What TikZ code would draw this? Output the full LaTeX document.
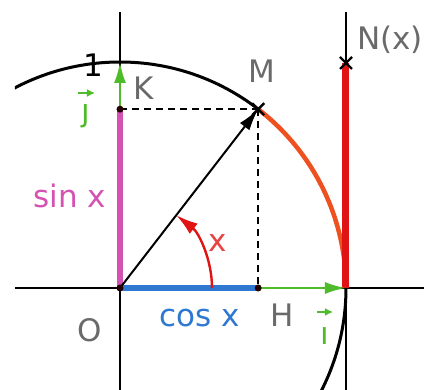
\documentclass[tikz,border=0pt]{standalone}
\usepackage{fontspec}
\setmainfont{DejaVu Sans}
\usetikzlibrary{arrows.meta}
\definecolor{txtgray}{HTML}{6A6A6A}
\definecolor{sinpink}{HTML}{D452B2}
\definecolor{cosblue}{HTML}{2F78D2}
\definecolor{vecgreen}{HTML}{4DBB2A}
\definecolor{tanred}{HTML}{E01414}
\definecolor{arcorange}{HTML}{EE5020}
\tikzset{
  lbl/.style={inner sep=0pt, anchor=base, font=\fontsize{31}{31}\selectfont, text=txtgray},
  axisline/.style={line width=2.4pt, black},
  dashline/.style={line width=2pt, dash pattern=on 7pt off 5pt},
  ptdot/.style={circle, fill=black!85!red, inner sep=0pt, minimum size=7pt},
  crossmark/.style={line width=2.4pt, black},
  unitvec/.style={line width=2.6pt, vecgreen, -{Latex[length=21pt,width=12pt]}},
  smallvec/.style={line width=2.2pt, vecgreen, -{Latex[length=8pt,width=8pt]}}
}
\begin{document}
\begin{tikzpicture}[x=1pt,y=1pt]
\useasboundingbox (-120,-102) rectangle (304,288);
\def\R{226}
\def\th{52.3}
\coordinate (O) at (0,0);
\coordinate (M) at (\th:\R);
\coordinate (K) at (O |- M);
\coordinate (H) at (M |- O);
\coordinate (J) at (0,\R);
\coordinate (I) at (\R,0);
\coordinate (N) at (\R,225);
\coordinate (Ntop) at (\R,276);
\coordinate (Nbot) at (\R,-102);
\coordinate (Ytop) at (0,276);
\coordinate (Ybot) at (0,-102);
\coordinate (Xl) at (-105,0);
\coordinate (Xr) at (304,0);
% circle
\begin{scope}
\clip (-105,-102) rectangle (304,276);
\draw[line width=3pt, black] (O) circle (\R);
\end{scope}
% axes
\draw[axisline] (Xl) -- (Xr);
\draw[axisline] (Ybot) -- (Ytop);
\draw[axisline] (Nbot) -- (Ntop);
% orange arc
\draw[line width=4.5pt, arcorange] (I) arc[start angle=0, end angle=\th, radius=\R];
% tangent red segment
\draw[line width=7pt, tanred] (I) -- (N);
% unit vectors
\draw[unitvec] (O) -- (J);
\draw[unitvec] (O) -- (I);
% dashed projections
\draw[dashline] (K) -- (M);
\draw[dashline] (M) -- (H);
% sin and cos
\draw[line width=6pt, sinpink] (O) -- (K);
\draw[line width=6pt, cosblue] (O) -- (H);
% OM vector
\draw[line width=2pt, black, -{Latex[length=22pt,width=12pt]}] (O) -- (M);
% angle arc
\draw[line width=2.4pt, tanred, -{Latex[length=22pt,width=13pt]}] (92,0) arc[start angle=0, end angle=\th, radius=92];
% points
\node[ptdot] (Od) at (O) {};
\node[ptdot] (Kd) at (K) {};
\node[ptdot] (Hd) at (H) {};
\draw[crossmark] ([shift={(-6,-6)}]M) -- ([shift={(6,6)}]M) ([shift={(-6,6)}]M) -- ([shift={(6,-6)}]M);
\draw[crossmark] ([shift={(-6,-6)}]N) -- ([shift={(6,6)}]N) ([shift={(-6,6)}]N) -- ([shift={(6,-6)}]N);
% labels
\node[lbl, text=black] (one) at (-27,211) {1};
\node[lbl] (Klab) at (24,188) {K};
\node[lbl] (Mlab) at (142,205) {M};
\node[lbl] (Nlab) at (270,238) {N(x)};
\node[lbl] (Olab) at (-30,-54) {O};
\node[lbl] (Hlab) at (162,-39) {H};
\node[lbl, text=cosblue] (coslab) at (80,-39) {cos x};
\node[lbl, text=sinpink] (sinlab) at (-50,80) {sin x};
\node[lbl, text=tanred!80!white] (xlab) at (98,36) {x};
\node[lbl, text=vecgreen] (jlab) at (-34,166) {ȷ};
\node[lbl, text=vecgreen] (ilab) at (205,-57) {ı};
\coordinate (ja) at (-42,195);
\coordinate (jb) at (-25,195);
\coordinate (ia) at (197,-24);
\coordinate (ib) at (213,-24);
\draw[smallvec] (ja) -- (jb);
\draw[smallvec] (ia) -- (ib);
\end{tikzpicture}
\end{document}
